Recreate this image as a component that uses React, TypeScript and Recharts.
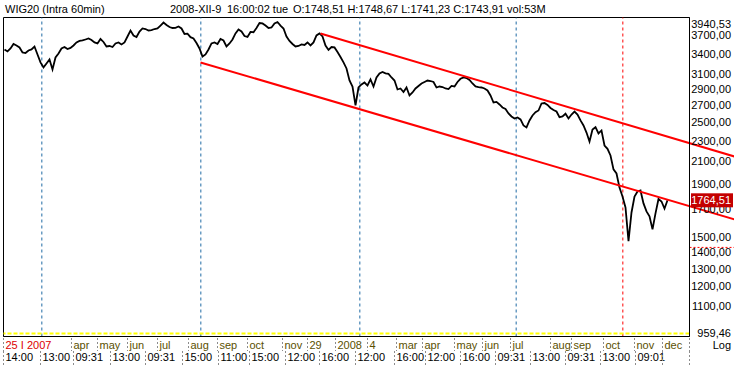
import React from "react";
import {
  LineChart,
  Line,
  XAxis,
  YAxis,
  ReferenceLine,
  ReferenceArea,
} from "recharts";

const W = 734;
const H = 368;
const FONT = "'Liberation Sans', Arial, sans-serif";

// x axis runs in trading-hour bars, one close every 18 bars
const FIRST_BAR = 6;
const SAMPLE_STEP = 18;
const LAST_BAR = 4116;
const OVERHANG_BAR = 4386;

const closes = [
  3467, 3436, 3482, 3553, 3529, 3498, 3420, 3412, 3451, 3467,
  3513, 3390, 3271, 3199, 3256, 3315, 3170, 3345, 3405, 3482,
  3505, 3474, 3490, 3529, 3577, 3601, 3609, 3625, 3641, 3617,
  3577, 3561, 3633, 3585, 3513, 3521, 3505, 3561, 3577, 3545,
  3577, 3674, 3774, 3691, 3666, 3757, 3808, 3799, 3774, 3782,
  3799, 3808, 3859, 3911, 3868, 3833, 3816, 3820, 3842, 3808,
  3715, 3720, 3663, 3641, 3569, 3482, 3359, 3390, 3467, 3561,
  3577, 3553, 3633, 3609, 3513, 3561, 3625, 3724, 3791, 3757,
  3682, 3666, 3749, 3745, 3816, 3902, 3895, 3859, 3816, 3825,
  3894, 3920, 3859, 3808, 3674, 3601, 3553, 3513, 3521, 3545,
  3537, 3577, 3529, 3577, 3691, 3724, 3674, 3529, 3459, 3505,
  3498, 3428, 3352, 3271, 3184, 3017, 2937, 2700, 2924, 2964,
  2990, 2950, 3031, 2937, 3058, 3114, 3135, 3114, 3107, 3058,
  3017, 2898, 2911, 2866, 2924, 2821, 2859, 2911, 2944, 2977,
  2997, 3017, 3010, 2997, 2924, 2937, 2930, 2911, 2904, 2944,
  2937, 2997, 3040, 3058, 3051, 3024, 2977, 2937, 2928, 2924,
  2911, 2885, 2821, 2734, 2741, 2710, 2674, 2656, 2603, 2568,
  2545, 2557, 2534, 2467, 2445, 2523, 2580, 2618, 2638, 2722,
  2728, 2704, 2668, 2644, 2626, 2560, 2568, 2600, 2545, 2591,
  2626, 2591, 2523, 2467, 2390, 2296, 2423, 2448, 2380, 2412,
  2255, 2222, 2157, 2027, 1990, 1868, 1795, 1709, 1470, 1671,
  1795, 1836, 1844, 1740, 1679, 1642, 1549, 1664, 1775, 1755,
  1701, 1764.51,
];

const LAST_CLOSE = 1764.51;
const PRICE_MIN = 959;
const PRICE_MAX = 4000;
const RANGE_LOW = 959.46;
const RANGE_HIGH = 3940.53;
const priceTicks = [
  959.46, 1100, 1200, 1300, 1400, 1500, 1700, 1900, 2100, 2300, 2500,
  2700, 2900, 3100, 3400, 3700, 3940.53, LAST_CLOSE,
];

const monthBars = [
  0, 408, 564, 744, 924, 1110, 1284, 1464, 1674, 1824, 1992, 2184, 2358,
  2514, 2706, 2874, 3042, 3282, 3408, 3600, 3786, 3954, LAST_BAR,
];
const monthLabels = [
  "25 I 2007", "apr", "may", "jun", "jul", "aug", "sep", "oct", "nov", "29",
  "2008", "4", "mar", "apr", "may", "jun", "jul", "aug", "sep", "oct", "nov",
  "dec", "",
];

const timeBars = [
  0, 222, 420, 642, 852, 1074, 1290, 1476, 1692, 1896, 2112, 2346, 2532,
  2742, 2952, 3162, 3372, 3582, 3792, 3954, LAST_BAR,
];
const timeLabels = [
  "14:00", "13:00", "09:31", "13:00", "09:31", "15:00", "11:00", "15:00",
  "12:00", "16:00", "12:00", "16:00", "12:00", "16:00", "09:31", "13:00",
  "09:31", "13:00", "09:01", "", "",
];

const blueMarkers = [230, 1184, 2138, 3076];
const redMarkers = [3716];

const upperChannel = [
  { x: 1902, y: 3724 },
  { x: OVERHANG_BAR, y: 2147 },
];
const lowerChannel = [
  { x: 1182, y: 3271 },
  { x: OVERHANG_BAR, y: 1620 },
];
const LOW_MARK = 1429;
const BASE_MARK = 972;

const series = closes.map((c, i) => ({ bar: FIRST_BAR + i * SAMPLE_STEP, close: c }));

const fmt = (v: number) => v.toFixed(2).replace(".", ",");

function PriceTick(props: any) {
  const { y, payload } = props;
  const v = payload.value as number;
  if (v === LAST_CLOSE) {
    return (
      <g>
        <rect x={691} y={y - 7} width={42} height={14} fill="#c40000" />
        <text x={W - 3} y={y + 4} textAnchor="end" fontSize={11} fontFamily={FONT} fill="#fff">
          {fmt(v)}
        </text>
      </g>
    );
  }
  let shift = 0;
  if (v === RANGE_HIGH) shift = 3;
  if (v === RANGE_LOW) shift = -3;
  return (
    <text x={W - 3} y={y + 4 + shift} textAnchor="end" fontSize={11} fontFamily={FONT} fill="#000">
      {fmt(v)}
    </text>
  );
}

function MonthTick(props: any) {
  const { x, payload } = props;
  const i = monthBars.indexOf(payload.value);
  const label = monthLabels[i] ?? "";
  return (
    <g>
      <line x1={x} x2={x} y1={338} y2={351} stroke="#8c8c8c" strokeDasharray="2 2" />
      <text
        x={x + 2}
        y={349}
        fontSize={11}
        fontFamily={FONT}
        fill={i === 0 ? "#dd0000" : "#5a5000"}
      >
        {label}
      </text>
    </g>
  );
}

function TimeTick(props: any) {
  const { x, payload } = props;
  const i = timeBars.indexOf(payload.value);
  return (
    <g>
      <line x1={x} x2={x} y1={351} y2={366} stroke="#8c8c8c" strokeDasharray="2 2" />
      <text x={x + 2} y={361} fontSize={11} fontFamily={FONT} fill="#000">
        {timeLabels[i] ?? ""}
      </text>
    </g>
  );
}

export default function App() {
  return (
    <div style={{ position: "absolute", left: 0, top: 0, width: W, height: H, background: "#fff" }}>
      <LineChart
        width={W}
        height={H}
        data={series}
        margin={{ top: 17.5, right: 0, bottom: 0, left: 3.5 }}
      >
        <XAxis
          xAxisId="m"
          dataKey="bar"
          type="number"
          domain={[0, LAST_BAR]}
          allowDataOverflow
          ticks={monthBars}
          interval={0}
          height={12}
          tickLine={false}
          axisLine={{ stroke: "#000" }}
          tick={<MonthTick />}
        />
        <XAxis
          xAxisId="t"
          dataKey="bar"
          type="number"
          domain={[0, LAST_BAR]}
          allowDataOverflow
          ticks={timeBars}
          interval={0}
          height={19.5}
          tickLine={false}
          axisLine={false}
          tick={<TimeTick />}
        />
        <YAxis
          yAxisId="p"
          orientation="right"
          type="number"
          scale="log"
          domain={[PRICE_MIN, PRICE_MAX]}
          allowDataOverflow
          ticks={priceTicks}
          interval={0}
          width={44.5}
          tickLine={false}
          axisLine={{ stroke: "#000" }}
          tick={<PriceTick />}
        />
        <ReferenceArea
          xAxisId="m"
          yAxisId="p"
          x1={0}
          x2={LAST_BAR}
          y1={PRICE_MIN}
          y2={PRICE_MAX}
          fill="#fff"
          fillOpacity={0}
          stroke="#000"
        />
        {blueMarkers.map((b) => (
          <ReferenceLine key={b} xAxisId="m" yAxisId="p" x={b} stroke="#1f6aa5" strokeDasharray="3 3" />
        ))}
        {redMarkers.map((b) => (
          <ReferenceLine key={b} xAxisId="m" yAxisId="p" x={b} stroke="#ff0000" strokeDasharray="3 3" />
        ))}
        <ReferenceLine
          xAxisId="m"
          yAxisId="p"
          y={BASE_MARK}
          stroke="#ffff00"
          strokeWidth={2}
          strokeDasharray="4 2"
        />
        <ReferenceLine
          xAxisId="m"
          yAxisId="p"
          segment={[
            { x: LAST_BAR, y: LOW_MARK },
            { x: OVERHANG_BAR, y: LOW_MARK },
          ]}
          stroke="#ff0000"
          strokeDasharray="2 2"
          ifOverflow="visible"
        />
        <Line
          xAxisId="m"
          yAxisId="p"
          type="linear"
          dataKey="close"
          stroke="#000"
          strokeWidth={1.8}
          strokeLinejoin="miter"
          dot={false}
          isAnimationActive={false}
        />
        <ReferenceLine
          xAxisId="m"
          yAxisId="p"
          segment={upperChannel}
          stroke="#ff0000"
          strokeWidth={2}
          ifOverflow="visible"
        />
        <ReferenceLine
          xAxisId="m"
          yAxisId="p"
          segment={lowerChannel}
          stroke="#ff0000"
          strokeWidth={2}
          ifOverflow="visible"
        />
      </LineChart>
      <svg
        width={W}
        height={H}
        style={{ position: "absolute", left: 0, top: 0, pointerEvents: "none" }}
      >
        <g fontSize={11} fontFamily={FONT} fill="#000">
          <text x={5} y={13}>WIG20 (Intra 60min)</text>
          <text x={170} y={13}>2008-XII-9</text>
          <text x={227} y={13}>16:00:02 tue</text>
          <text x={293} y={13}>O:1748,51 H:1748,67 L:1741,23 C:1743,91 vol:53M</text>
          <text x={W - 3} y={349} textAnchor="end">Log</text>
        </g>
      </svg>
    </div>
  );
}
